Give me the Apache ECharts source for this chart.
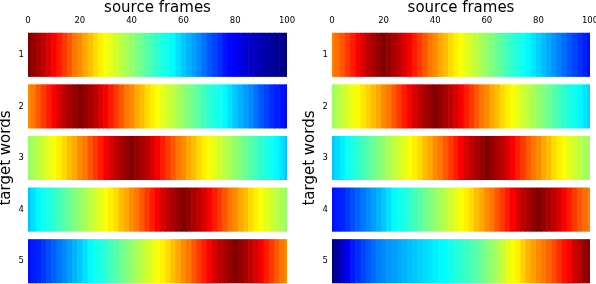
<!DOCTYPE html>
<html>
<head>
<meta charset="utf-8">
<script src="https://cdn.jsdelivr.net/npm/echarts@6/dist/echarts.min.js"></script>
<style>html,body{margin:0;padding:0;background:#fff}#c{width:596px;height:284px}</style>
</head>
<body>
<div id="c"></div>
<script>
var frames = [0,2,4,6,8,10,12,14,16,18,20,22,24,26,28,30,32,34,36,38,40,42,44,46,48,50,52,54,56,58,60,62,64,66,68,70,72,74,76,78,80,82,84,86,88,90,92,94,96,98,100];
var rowLabels = ['1','2','3','4','5'];
var xTicks = [0,20,40,60,80,100];

var leftRow1 = [1.00,0.98,0.96,0.94,0.91,0.88,0.85,0.82,0.79,0.76,0.74,0.71,0.69,0.66,0.64,0.62,0.60,0.58,0.56,0.54,0.52,0.50,0.48,0.46,0.44,0.42,0.40,0.39,0.37,0.345,0.32,0.30,0.28,0.26,0.235,0.21,0.19,0.17,0.145,0.13,0.115,0.10,0.085,0.07,0.06,0.05,0.04,0.03,0.02,0.01,0.00];
var leftRow2 = [0.74,0.76,0.79,0.82,0.85,0.88,0.91,0.94,0.96,0.98,1.00,0.98,0.96,0.94,0.91,0.88,0.85,0.82,0.79,0.76,0.74,0.71,0.69,0.66,0.64,0.62,0.60,0.58,0.56,0.54,0.52,0.50,0.48,0.46,0.44,0.42,0.40,0.39,0.37,0.345,0.32,0.30,0.28,0.26,0.235,0.21,0.19,0.17,0.155,0.14,0.13];
var leftRow3 = [0.52,0.54,0.56,0.58,0.60,0.62,0.64,0.66,0.69,0.71,0.74,0.76,0.79,0.82,0.85,0.88,0.91,0.94,0.96,0.98,1.00,0.98,0.96,0.94,0.91,0.88,0.85,0.82,0.79,0.76,0.74,0.71,0.69,0.66,0.64,0.62,0.60,0.58,0.56,0.54,0.52,0.50,0.48,0.46,0.44,0.42,0.40,0.39,0.37,0.345,0.32];
var leftRow4 = [0.32,0.345,0.37,0.39,0.40,0.42,0.44,0.46,0.48,0.50,0.52,0.54,0.56,0.58,0.60,0.62,0.64,0.66,0.69,0.71,0.74,0.76,0.79,0.82,0.85,0.88,0.91,0.94,0.96,0.98,1.00,0.98,0.96,0.94,0.91,0.88,0.85,0.82,0.79,0.76,0.74,0.71,0.69,0.66,0.64,0.62,0.60,0.58,0.56,0.54,0.52];
var leftRow5 = [0.14,0.15,0.16,0.18,0.20,0.22,0.24,0.26,0.28,0.30,0.32,0.345,0.37,0.39,0.40,0.42,0.44,0.46,0.48,0.50,0.52,0.54,0.56,0.58,0.60,0.62,0.64,0.66,0.69,0.71,0.74,0.76,0.79,0.82,0.85,0.88,0.91,0.94,0.96,0.98,1.00,0.98,0.96,0.94,0.91,0.88,0.85,0.82,0.79,0.76,0.74];

var rightRow1 = [0.75,0.77,0.79,0.82,0.85,0.88,0.91,0.94,0.96,0.98,1.00,0.98,0.96,0.94,0.91,0.88,0.85,0.82,0.79,0.76,0.74,0.71,0.69,0.66,0.64,0.62,0.60,0.58,0.56,0.54,0.52,0.50,0.48,0.46,0.44,0.42,0.40,0.39,0.37,0.35,0.33,0.31,0.29,0.27,0.25,0.23,0.21,0.19,0.17,0.155,0.14];
var rightRow2 = [0.53,0.55,0.57,0.59,0.61,0.63,0.65,0.67,0.69,0.71,0.74,0.76,0.79,0.82,0.85,0.88,0.91,0.94,0.96,0.98,1.00,0.98,0.96,0.94,0.91,0.88,0.85,0.82,0.79,0.76,0.74,0.71,0.69,0.66,0.64,0.62,0.60,0.58,0.56,0.54,0.52,0.50,0.48,0.46,0.44,0.42,0.40,0.39,0.37,0.35,0.33];
var rightRow3 = [0.32,0.34,0.36,0.38,0.40,0.42,0.44,0.46,0.48,0.50,0.52,0.54,0.56,0.58,0.60,0.62,0.64,0.66,0.69,0.71,0.74,0.76,0.79,0.82,0.85,0.88,0.91,0.94,0.96,0.98,1.00,0.98,0.96,0.94,0.91,0.88,0.85,0.82,0.79,0.76,0.74,0.71,0.69,0.66,0.64,0.62,0.60,0.58,0.56,0.54,0.53];
var rightRow4 = [0.14,0.15,0.16,0.18,0.20,0.22,0.24,0.26,0.28,0.30,0.32,0.345,0.37,0.39,0.40,0.42,0.44,0.46,0.48,0.50,0.52,0.54,0.56,0.58,0.60,0.62,0.64,0.66,0.69,0.71,0.74,0.76,0.79,0.82,0.85,0.88,0.91,0.94,0.96,0.98,1.00,0.98,0.96,0.94,0.91,0.88,0.85,0.82,0.79,0.77,0.75];
var rightRow5 = [0.00,0.03,0.07,0.12,0.15,0.17,0.19,0.21,0.23,0.25,0.26,0.27,0.28,0.29,0.30,0.31,0.32,0.33,0.34,0.35,0.36,0.37,0.375,0.39,0.41,0.42,0.43,0.45,0.46,0.48,0.50,0.52,0.54,0.57,0.60,0.62,0.64,0.67,0.70,0.72,0.74,0.76,0.78,0.80,0.83,0.86,0.88,0.92,0.95,0.98,1.00];

var leftRows = [leftRow1, leftRow2, leftRow3, leftRow4, leftRow5];
var rightRows = [rightRow1, rightRow2, rightRow3, rightRow4, rightRow5];

function toCells(rows) {
  var out = [];
  for (var r = 0; r < rows.length; r++) {
    for (var j = 0; j < frames.length; j++) {
      out.push([frames[j], r, rows[r][j]]);
    }
  }
  return out;
}

var FONT = 'DejaVu Sans';
var half = 1; // half width of one sampled cell in frame units

function renderItem(params, api) {
  var x = api.value(0), row = api.value(1);
  var x0 = Math.max(0, x - half), x1 = Math.min(100, x + half);
  var p0 = api.coord([x0, row]);
  var p1 = api.coord([x1, row]);
  var bh = api.size([0, 1])[1] * 0.855;
  var extra = x1 < 100 ? 0.6 : 0;
  return {
    type: 'rect',
    shape: { x: p0[0], y: p0[1] - bh / 2, width: p1[0] - p0[0] + extra, height: bh },
    style: { fill: api.visual('color') }
  };
}

function xAxisCfg(idx) {
  return {
    type: 'value', gridIndex: idx, position: 'top', min: 0, max: 100, interval: 20,
    name: 'source frames', nameLocation: 'middle', nameGap: 13, nameMoveOverlap: false,
    nameTextStyle: { fontFamily: FONT, fontSize: 15, color: '#000' },
    axisLine: { show: false }, axisTick: { show: false }, splitLine: { show: false },
    axisLabel: { fontFamily: FONT, fontSize: 8.5, color: '#000', margin: 4 }
  };
}
function yAxisCfg(idx) {
  return {
    type: 'category', gridIndex: idx, data: rowLabels, inverse: true,
    name: 'target words', nameLocation: 'middle', nameGap: 14, nameRotate: 90,
    nameTextStyle: { fontFamily: FONT, fontSize: 15, color: '#000' },
    axisLine: { show: false }, axisTick: { show: false }, splitLine: { show: false },
    axisLabel: { fontFamily: FONT, fontSize: 8.5, color: '#000', margin: 4 }
  };
}

var chart = echarts.init(document.getElementById('c'), null, { renderer: 'canvas' });
chart.setOption({
  animation: false,
  backgroundColor: '#fff',
  grid: [
    { left: 28, top: 29, width: 259, height: 258, containLabel: false, outerBoundsMode: 'none' },
    { left: 332, top: 29, width: 258, height: 258, containLabel: false, outerBoundsMode: 'none' }
  ],
  xAxis: [xAxisCfg(0), xAxisCfg(1)],
  yAxis: [yAxisCfg(0), yAxisCfg(1)],
  visualMap: {
    show: false, type: 'continuous', min: 0, max: 1, dimension: 2, seriesIndex: [0, 1],
    inRange: { color: ['#000080', '#0000ff', '#0080ff', '#00ffff', '#80ff80', '#ffff00', '#ff8000', '#ff0000', '#800000'] }
  },
  series: [
    { type: 'custom', xAxisIndex: 0, yAxisIndex: 0, renderItem: renderItem, encode: { x: 0, y: 1 }, data: toCells(leftRows) },
    { type: 'custom', xAxisIndex: 1, yAxisIndex: 1, renderItem: renderItem, encode: { x: 0, y: 1 }, data: toCells(rightRows) }
  ]
});
</script>
</body>
</html>
